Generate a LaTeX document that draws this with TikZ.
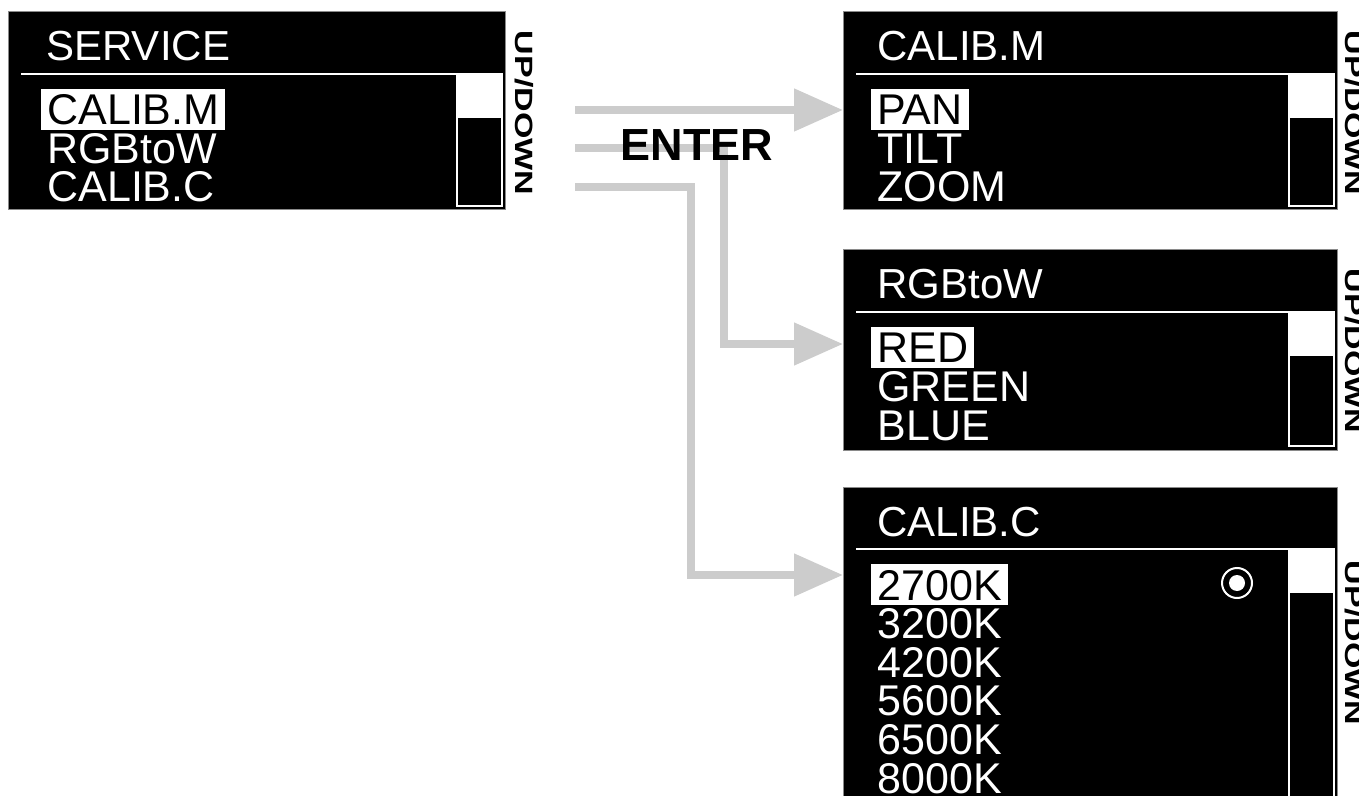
\documentclass[tikz,border=0pt]{standalone}
\usepackage{fontspec}
\setmainfont{Liberation Sans}
\usetikzlibrary{arrows.meta,positioning,calc}
\definecolor{Rim}{HTML}{8A8A8A}
\definecolor{Flow}{HTML}{CCCCCC}
\tikzset{
  screenbox/.style={draw=Rim,fill=black,line width=0.5pt,anchor=north west,inner sep=0pt,outer sep=0pt},
  titletext/.style={anchor=base west,inner sep=0pt,text=white,font=\fontsize{21pt}{21pt}\selectfont},
  itemtext/.style={anchor=base west,inner sep=0pt,text=white,font=\fontsize{21.5pt}{21.5pt}\selectfont},
  selitem/.style={itemtext,fill=white,text=black,inner xsep=3pt,text height=18pt,text depth=2.5pt},
  divider/.style={draw=white,line width=1pt},
  scrollbar/.style={draw=white,line width=1pt},
  updown/.style={rotate=-90,anchor=base,inner sep=0pt,font=\fontsize{12.5pt}{12.5pt}\selectfont\bfseries},
  flow/.style={draw=Flow,line width=4pt},
  flowtip/.style={flow,-{Triangle[length=24.5pt,width=20.5pt]}}
}

\begin{document}
\begin{tikzpicture}[x=0.5pt,y=-0.5pt]
  \path[use as bounding box,clip] (0,0) rectangle (1359,796);

  % screens
  \node[screenbox,minimum width=248.5pt,minimum height=99pt] (srv) at (8,12) {};
  \node[screenbox,minimum width=247pt,minimum height=99pt] (cm) at (843,12) {};
  \node[screenbox,minimum width=247pt,minimum height=100pt] (rgb) at (843,250) {};
  \node[screenbox,minimum width=247pt,minimum height=157pt] (cc) at (843,487) {};

  \foreach \b in {srv,cm,rgb,cc}{
    \draw[divider] ($(\b.north west)+(13,62)$) -- ($(\b.north east)+(-48,62)$);
    \fill[white] ($(\b.north east)+(-48,62)$) rectangle ($(\b.north east)+(-3,106)$);
    \draw[scrollbar] ($(\b.north east)+(-48,62)$) rectangle ($(\b.south east)+(-3,-4)$);
  }

  % SERVICE
  \node[titletext] (srvtitle) at (46,61) {SERVICE};
  \node[selitem] (calm) at (41,125) {CALIB.M};
  \node[itemtext] (rgbw) at (47,163.5) {RGBtoW};
  \node[itemtext] (calc) at (47,202) {CALIB.C};
  \node[updown] (srvud) at (515,113) {\scalebox{1.36}[1]{UP/DOWN}};

  % CALIB.M
  \node[titletext] (cmtitle) at (877,61) {CALIB.M};
  \node[selitem] (pan) at (871,125) {PAN};
  \node[itemtext] (tilt) at (877,163.5) {TILT};
  \node[itemtext] (zoom) at (877,202) {ZOOM};
  \node[updown] (cmud) at (1345,113) {\scalebox{1.36}[1]{UP/DOWN}};

  % RGBtoW
  \node[titletext] (rgbtitle) at (877,299) {RGBtoW};
  \node[selitem] (red) at (871,363) {RED};
  \node[itemtext] (green) at (877,401.5) {GREEN};
  \node[itemtext] (blue) at (877,440) {BLUE};
  \node[updown] (rgbud) at (1345,351) {\scalebox{1.36}[1]{UP/DOWN}};

  % CALIB.C
  \node[titletext] (cctitle) at (877,536) {CALIB.C};
  \node[selitem] (k1) at (871,600) {2700K};
  \foreach \t [count=\i from 2] in {3200K,4200K,5600K,6500K,8000K}
    \node[itemtext] (k\i) at (877,{600+(\i-1)*38.6}) {\t};
  \node[draw=white,circle,line width=1pt,minimum size=15pt,inner sep=0pt] (ring) at (1237,583) {};
  \node[fill=white,circle,minimum size=8pt,inner sep=0pt] (dot) at (ring) {};
  \node[updown] (ccud) at (1345,643) {\scalebox{1.36}[1]{UP/DOWN}};

  % ENTER arrows
  \coordinate (s1) at (575,110);
  \coordinate (s2) at (575,148);
  \coordinate (s3) at (575,187);
  \coordinate (k2) at (724,148);
  \coordinate (k3) at (691,187);
  \draw[flowtip] (s1) -- ($(cm.north west)+(0,98)$);
  \draw[flowtip] (s2) -- (k2) |- ($(rgb.north west)+(0,94)$);
  \draw[flowtip] (s3) -- (k3) |- ($(cc.north west)+(0,88)$);
  \node[anchor=base,inner sep=0pt,font=\fontsize{22.5pt}{22.5pt}\selectfont\bfseries] (enter) at (697,161) {ENTER};
\end{tikzpicture}
\end{document}
